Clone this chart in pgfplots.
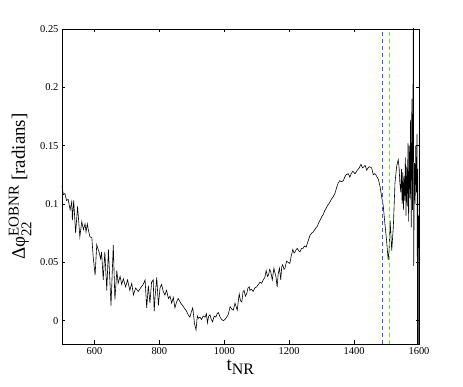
\documentclass[border=0pt]{standalone}
\usepackage{amsmath}
\usepackage{fontspec}
\setmainfont{Liberation Serif}
\usepackage{pgfplots}
\pgfplotsset{compat=1.18}

\definecolor{vblue}{RGB}{60,90,255}
\definecolor{vgreen}{RGB}{110,225,50}

\begin{document}
\begin{tikzpicture}
\begin{axis}[
  name=main,
  scale only axis, width=357bp, height=315bp,
  xmin=500, xmax=1600, ymin=-0.02, ymax=0.25,
  xtick={600,800,1000,1200,1400,1600},
  xticklabels={600,800,1000,1200,1400,1600},
  ytick={0,0.05,0.1,0.15,0.2,0.25},
  yticklabels={0,0.05,0.1,0.15,0.2,0.25},
  tick align=inside, tick pos=both,
  major tick length=3.5bp,
  tick style={black, line width=0.4pt},
  axis line style={black, line width=0.6pt},
  tick label style={font=\fontsize{10.5}{12}\selectfont},
  xlabel={\fontsize{19}{22}\selectfont t$_{\text{\fontsize{16}{18}\selectfont NR}}$},
  ylabel={\fontsize{19}{22}\selectfont Δφ$^{\text{\fontsize{15}{17}\selectfont EOBNR}}_{\text{\fontsize{15}{17}\selectfont 22}}$ [radians]},
  xlabel style={yshift=2bp},
  ylabel style={yshift=2bp},
]
\addplot[black, line width=0.6pt] coordinates {
(500,0.116) (504,0.108) (509,0.109) (514,0.103) (519,0.104) (525,0.095) (530,0.102)
(532,0.086) (536,0.103) (542,0.075) (548,0.098) (555,0.072) (561,0.085) (566,0.078)
(571,0.083) (574,0.076) (578,0.083) (581,0.078) (586,0.072) (592,0.071) (596,0.055)
(602,0.039) (607,0.065) (614,0.059) (619,0.053) (622,0.059) (627,0.035) (632,0.059)
(638,0.026) (643,0.061) (651,0.013) (658,0.065) (663,0.018) (669,0.043) (673,0.032)
(679,0.038) (684,0.031) (689,0.036) (696,0.029) (702,0.035) (709,0.026) (715,0.032)
(720,0.022) (727,0.028) (735,0.025) (742,0.028) (750,0.031) (756,0.035) (761,0.011)
(766,0.030) (771,0.015) (776,0.033) (781,0.035) (784,0.008) (787,0.021) (792,0.037)
(797,0.013) (802,0.028) (807,0.031) (812,0.025) (817,0.022) (822,0.026) (828,0.019)
(833,0.021) (838,0.015) (843,0.020) (848,0.011) (853,0.016) (858,0.019) (866,0.015)
(874,0.012) (879,0.010) (884,0.008) (889,0.005) (894,0.003) (898,0.007) (903,0.011)
(908,-0.002) (913,-0.008) (917,0.004) (920,0.002) (925,0.003) (930,0.001) (935,0.004)
(941,0.003) (945,0.006) (948,-0.002) (952,0.004) (956,0.005) (960,0.001) (964,-0.001)
(969,0.004) (974,0.003) (978,0.006) (982,0.007) (987,0.003) (992,0.001) (997,0.000)
(1002,0.001) (1007,0.003) (1012,0.005) (1018,0.012) (1023,0.010) (1028,0.009)
(1033,0.015) (1040,0.009) (1046,0.023) (1050,0.017) (1054,0.016) (1058,0.025)
(1061,0.026) (1065,0.021) (1069,0.023) (1073,0.028) (1077,0.029) (1079,0.026)
(1084,0.027) (1089,0.025) (1094,0.028) (1100,0.029) (1105,0.031) (1110,0.033)
(1115,0.032) (1120,0.035) (1125,0.037) (1129,0.043) (1133,0.038) (1136,0.039)
(1140,0.044) (1143,0.042) (1148,0.035) (1153,0.045) (1156,0.041) (1159,0.038)
(1163,0.029) (1166,0.040) (1170,0.045) (1174,0.035) (1177,0.046) (1180,0.048)
(1184,0.044) (1187,0.045) (1192,0.051) (1197,0.050) (1202,0.049) (1206,0.055)
(1211,0.061) (1215,0.058) (1218,0.059) (1222,0.061) (1225,0.062) (1229,0.060)
(1233,0.059) (1238,0.062) (1243,0.062) (1247,0.064) (1252,0.063) (1258,0.068)
(1264,0.073) (1269,0.075) (1274,0.076) (1281,0.079) (1287,0.081) (1291,0.084)
(1295,0.086) (1300,0.089) (1305,0.091) (1309,0.094) (1313,0.096) (1319,0.099)
(1324,0.101) (1330,0.104) (1335,0.106) (1341,0.109) (1346,0.114) (1351,0.118)
(1356,0.120) (1361,0.119) (1367,0.120) (1371,0.123) (1375,0.125) (1382,0.126)
(1387,0.123) (1391,0.126) (1396,0.128) (1403,0.126) (1410,0.129) (1416,0.131)
(1421,0.134) (1426,0.131) (1430,0.132) (1434,0.133) (1439,0.129) (1443,0.131)
(1447,0.132) (1454,0.131) (1459,0.125) (1463,0.126) (1467,0.125) (1471,0.123)
(1475,0.121) (1480,0.115) (1485,0.106) (1490,0.098) (1495,0.083) (1500,0.069)
(1505,0.052) (1508,0.061) (1511,0.086) (1516,0.060) (1521,0.081) (1526,0.118)
(1531,0.132) (1536,0.138) (1539,0.130) (1541,0.118) (1544,0.110) (1546,0.130)
(1548,0.100) (1550,0.127) (1552,0.095) (1554,0.124) (1556,0.103) (1558,0.140)
(1560,0.090) (1562,0.132) (1564,0.098) (1566,0.152) (1568,0.085) (1570,0.150)
(1572,0.105) (1574,0.172) (1576,0.080) (1578,0.190) (1580,0.095) (1581,0.165)
(1583,0.280) (1583.6,0.047) (1586,0.135) (1588,0.100) (1590,0.150) (1592,0.110)
(1594,0.160) (1595.5,-0.050) (1596.5,0.130) (1597.5,-0.050) (1598.5,0.090)
};
\addplot[vblue, line width=0.6pt, dash pattern=on 4bp off 3bp] coordinates {(1488,-0.02) (1488,0.25)};
\addplot[vgreen, line width=0.6pt, dash pattern=on 4bp off 3bp] coordinates {(1510,-0.02) (1510,0.25)};
\end{axis}
\pgfresetboundingbox
\path[use as bounding box] (main.south west) ++(-62bp,-43bp) rectangle ++(463bp,387bp);
\end{tikzpicture}
\end{document}
